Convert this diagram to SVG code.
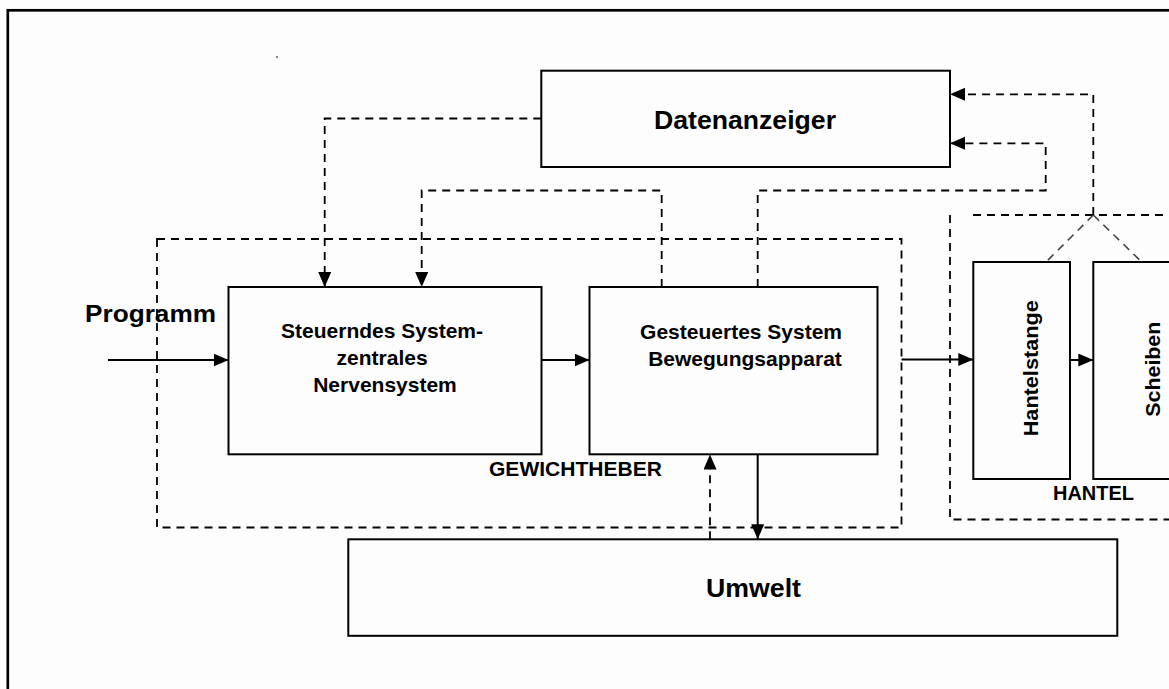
<svg xmlns="http://www.w3.org/2000/svg" width="1169" height="689" viewBox="0 0 1169 689">
  <style>
    .box { fill: none; stroke: #000; stroke-width: 2; }
    .dash { fill: none; stroke: #000; stroke-width: 1.8; stroke-dasharray: 8 6; }
    .dash-diag { fill: none; stroke: #444; stroke-width: 1.6; stroke-dasharray: 8 6; }
    .solid { fill: none; stroke: #000; stroke-width: 2; }
    .lbl { font-family: "Liberation Sans", Arial, sans-serif; font-weight: bold; fill: #000; }
  </style>
  <defs>
    <marker id="arrow" markerUnits="userSpaceOnUse" markerWidth="16" markerHeight="14" refX="15" refY="6.5" orient="auto">
      <path d="M0,0 L15,6.5 L0,13 Z" fill="#000"/>
    </marker>
  </defs>

  <!-- page background and frame -->
  <rect x="0" y="0" width="1169" height="689" fill="#fdfdfd"/>
  <rect x="7.8" y="10.3" width="1200" height="720" fill="none" stroke="#000" stroke-width="2.7"/>
  <circle cx="277" cy="57" r="1.1" fill="#666"/>

  <!-- system boundaries -->
  <g id="gewichtheber">
    <rect class="dash" x="157" y="239" width="744.5" height="288.5"/>
    <text class="lbl" x="489" y="476" font-size="20" textLength="173" lengthAdjust="spacingAndGlyphs">GEWICHTHEBER</text>
  </g>
  <g id="hantel">
    <path class="dash" d="M950,215 V519.5 H1169"/>
    <path class="dash" d="M973,215 H1169"/>
    <text class="lbl" x="1053" y="500" font-size="20" textLength="81" lengthAdjust="spacingAndGlyphs">HANTEL</text>
  </g>

  <!-- nodes -->
  <g id="datenanzeiger">
    <rect class="box" x="541.3" y="70.7" width="408.7" height="96.3" fill="#fff"/>
    <text class="lbl" x="654" y="128.5" font-size="26" textLength="182" lengthAdjust="spacingAndGlyphs">Datenanzeiger</text>
  </g>
  <g id="steuerndes-system">
    <rect class="box" x="228.5" y="287" width="313" height="167.3"/>
    <text class="lbl" font-size="21" text-anchor="middle">
      <tspan x="385" y="337.5">Steuerndes System-</tspan>
      <tspan x="385" y="364.5">zentrales</tspan>
      <tspan x="385" y="391.5">Nervensystem</tspan>
    </text>
  </g>
  <g id="gesteuertes-system">
    <rect class="box" x="589.5" y="287" width="288" height="167.3"/>
    <text class="lbl" font-size="21" text-anchor="middle">
      <tspan x="744" y="338.5">Gesteuertes System</tspan>
      <tspan x="745" y="366">Bewegungsapparat</tspan>
    </text>
  </g>
  <g id="hantelstange">
    <rect class="box" x="973.3" y="262" width="96.7" height="217"/>
    <text class="lbl" font-size="21" text-anchor="middle" transform="translate(1037.5,368.3) rotate(-90)" textLength="136" lengthAdjust="spacingAndGlyphs">Hantelstange</text>
  </g>
  <g id="scheiben">
    <rect class="box" x="1093.3" y="262" width="120" height="217"/>
    <text class="lbl" font-size="21" text-anchor="middle" transform="translate(1159.5,369.2) rotate(-90)" textLength="95" lengthAdjust="spacingAndGlyphs">Scheiben</text>
  </g>
  <g id="umwelt">
    <rect class="box" x="348.3" y="539.3" width="769" height="96.5"/>
    <text class="lbl" x="706" y="596.5" font-size="26" textLength="95" lengthAdjust="spacingAndGlyphs">Umwelt</text>
  </g>
  <g id="programm">
    <text class="lbl" x="85" y="322" font-size="24" textLength="131" lengthAdjust="spacingAndGlyphs">Programm</text>
  </g>

  <!-- connectors -->
  <g id="connectors">
    <!-- signal flow -->
    <path class="solid" d="M108,360 H228.5" marker-end="url(#arrow)"/>
    <path class="solid" d="M541.5,360 H589.5" marker-end="url(#arrow)"/>
    <path class="solid" d="M901.5,359.5 H973.3" marker-end="url(#arrow)"/>
    <path class="solid" d="M1070,360 H1093.3" marker-end="url(#arrow)"/>
    <path class="solid" d="M757.7,454.3 V539.3" marker-end="url(#arrow)"/>

    <!-- information feedback -->
    <path class="dash" d="M541.3,118.5 H324.7 V287" marker-end="url(#arrow)"/>
    <path class="dash" d="M661.7,287 V190.5 H421.7 V287" marker-end="url(#arrow)"/>
    <path class="dash" d="M757.7,287 V190.5 H1045.7 V143.3 H950" marker-end="url(#arrow)"/>
    <path class="dash" d="M1093.3,215 V94.3 H950" marker-end="url(#arrow)"/>
    <path class="dash" d="M710,539.3 V454.5" marker-end="url(#arrow)"/>
    <path class="dash-diag" d="M1093.3,215 L1046,262"/>
    <path class="dash-diag" d="M1093.3,215 L1141.7,262"/>
  </g>
</svg>
